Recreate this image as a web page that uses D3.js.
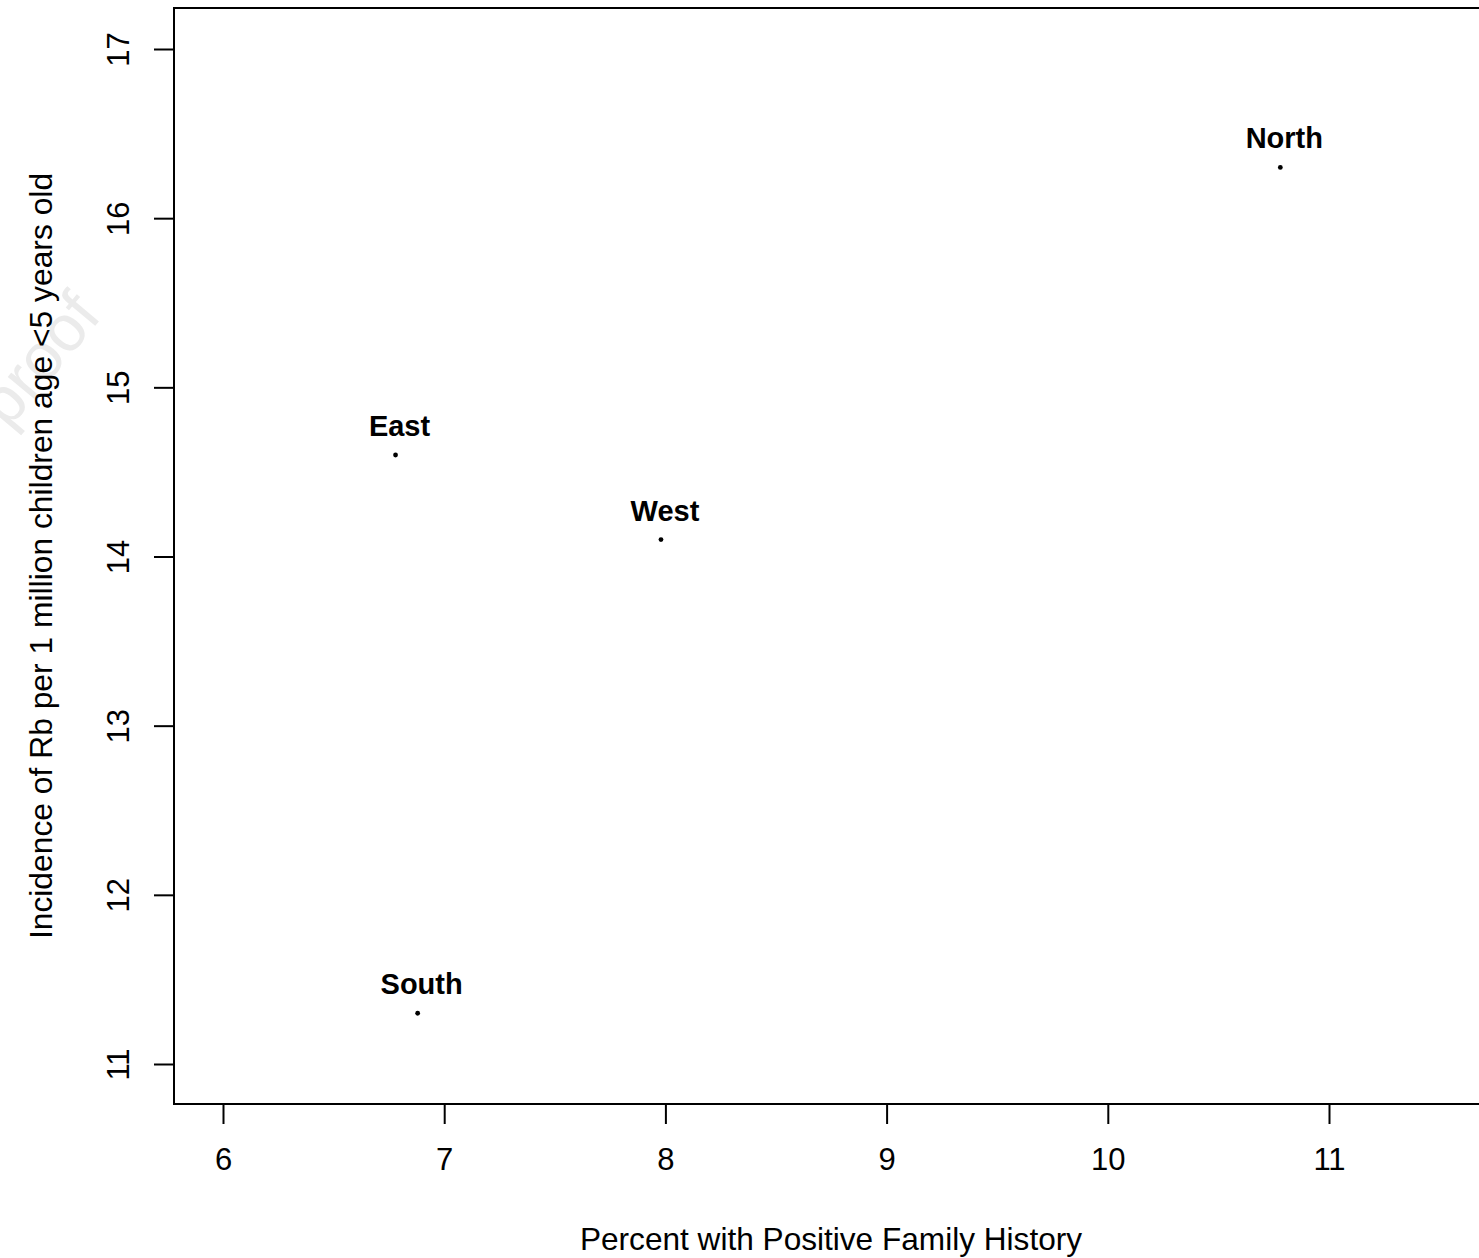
<!DOCTYPE html>
<html>
<head>
<meta charset="utf-8">
<script src="https://cdn.jsdelivr.net/npm/d3@7"></script>
<style>
  html, body { margin: 0; padding: 0; background: #fff; overflow: hidden; }
  svg { display: block; font-family: "Liberation Sans", Arial, Helvetica, sans-serif; }
</style>
</head>
<body>
<svg id="chart" width="1479" height="1258"></svg>
<script>
// ========= Data
const regions = ["North", "East", "West", "South"];
const familyHistory = [10.78, 6.78, 7.98, 6.88];   // percent with positive family history
const incidence = [16.3, 14.6, 14.1, 11.3];         // Rb per 1 million children < 5
const xTicks = [6, 7, 8, 9, 10, 11];
const yTicks = [11, 12, 13, 14, 15, 16, 17];

const svg = d3.select("#chart");

// ========= Scales (plot region matches the R-style box)
const x = d3.scaleLinear().domain([6, 11]).range([223, 1329]);
const y = d3.scaleLinear().domain([11, 17]).range([1064, 49]);

const box = { left: 174, top: 8, bottom: 1104, right: 1490 };

// faint watermark
svg.append("text")
    .attr("transform", "translate(8,430) rotate(-50)")
    .attr("font-size", 65)
    .attr("fill", "#ebebeb")
    .text("proof");

// plot box
svg.append("rect")
    .attr("x", box.left)
    .attr("y", box.top)
    .attr("width", box.right - box.left)
    .attr("height", box.bottom - box.top)
    .attr("fill", "none")
    .attr("stroke", "#000")
    .attr("stroke-width", 2);

// ========= Axes
const xAxis = svg.append("g")
    .attr("transform", `translate(0,${box.bottom})`)
    .call(d3.axisBottom(x).tickValues(xTicks).tickFormat(d3.format("d"))
        .tickSize(20).tickPadding(24).tickSizeOuter(0));
xAxis.select(".domain")
    .attr("d", `M${x(6)},0H${x(11)}`);

const yAxis = svg.append("g")
    .attr("transform", `translate(${box.left},0)`)
    .call(d3.axisLeft(y).tickValues(yTicks).tickFormat(d3.format("d"))
        .tickSize(20).tickSizeOuter(0));
yAxis.select(".domain")
    .attr("d", `M0,${y(11)}V${y(17)}`);

[xAxis, yAxis].forEach(g => {
    g.selectAll("line").attr("stroke-width", 2);
    g.select(".domain").attr("stroke-width", 2);
    g.selectAll("text")
        .attr("font-size", 31)
        .attr("font-family", "Liberation Sans, Arial, sans-serif")
        .attr("fill", "#000");
});

xAxis.selectAll(".tick text").attr("dy", "0.71em");

// rotated y tick labels (R las=0)
yAxis.selectAll(".tick text")
    .attr("x", null)
    .attr("dy", null)
    .attr("text-anchor", "middle")
    .attr("transform", "translate(-45,0) rotate(-90)");

// ========= Points and labels
const pts = regions.map((r, i) => ({ name: r, fx: familyHistory[i], inc: incidence[i] }));

svg.selectAll("circle.pt")
    .data(pts)
    .enter()
    .append("circle")
    .attr("class", "pt")
    .attr("cx", d => x(d.fx))
    .attr("cy", d => y(d.inc))
    .attr("r", 2.4)
    .attr("fill", "#000");

svg.selectAll("text.lbl")
    .data(pts)
    .enter()
    .append("text")
    .attr("class", "lbl")
    .attr("x", d => x(d.fx) + 4)
    .attr("y", d => y(d.inc) - 19)
    .attr("text-anchor", "middle")
    .attr("font-size", 29)
    .attr("font-weight", "bold")
    .text(d => d.name);

// ========= Axis titles
svg.append("text")
    .attr("x", 831)
    .attr("y", 1250)
    .attr("text-anchor", "middle")
    .attr("font-size", 31.6)
    .text("Percent with Positive Family History");

svg.append("text")
    .attr("transform", "translate(52,556) rotate(-90)")
    .attr("text-anchor", "middle")
    .attr("font-size", 31.8)
    .text("Incidence of Rb per 1 million children age <5 years old");
</script>
</body>
</html>
